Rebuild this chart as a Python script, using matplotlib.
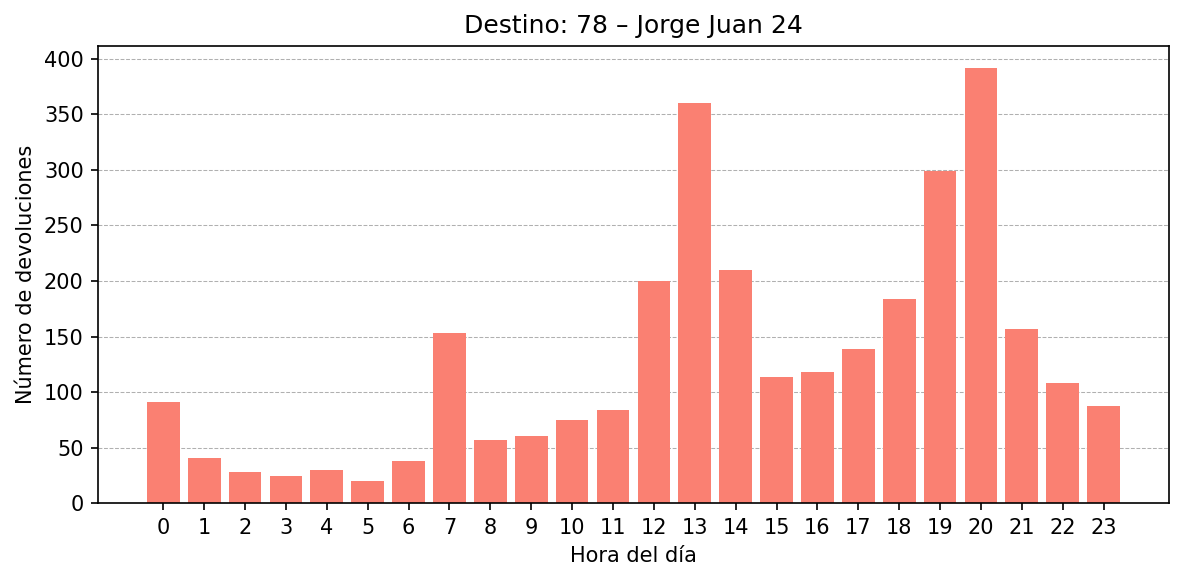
import matplotlib
matplotlib.use("Agg")
import matplotlib.pyplot as plt

horas = list(range(24))
devoluciones = [91, 41, 28, 24, 30, 20, 38, 153, 57, 60, 75, 84,
                200, 360, 210, 114, 118, 139, 184, 299, 392, 157, 108, 87]
titulo = "Destino: 78 – Jorge Juan 24"

fig, ax = plt.subplots(figsize=(1184 / 150, 581 / 150), dpi=150)
ax.bar(horas, devoluciones, color="salmon")
ax.set_xticks(horas)
ax.set_title(titulo)
ax.set_xlabel("Hora del día")
ax.set_ylabel("Número de devoluciones")
ax.grid(axis="y", linestyle="--", linewidth=0.5, color="#b0b0b0")
ax.set_axisbelow(True)
fig.subplots_adjust(left=0.083, right=0.987, top=0.921, bottom=0.134)
fig.savefig("out.png")
